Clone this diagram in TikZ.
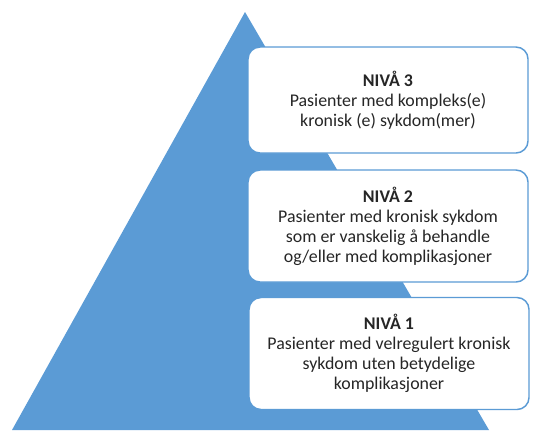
\documentclass[tikz,border=0pt]{standalone}
\usepackage{fontspec}
\setmainfont{Carlito}
\definecolor{pyrblue}{HTML}{5B9BD5}
\definecolor{txtgray}{HTML}{262626}
\begin{document}
\begin{tikzpicture}[x=0.75pt,y=-0.75pt,
  levelbox/.style={draw=pyrblue,line width=1.1pt,fill=white,rounded corners=9pt,
    minimum width=210pt,align=center,text=txtgray,
    font=\fontsize{13.4}{15}\selectfont,inner sep=0pt}]
\useasboundingbox (0,0) rectangle (534,430);
\coordinate (apex) at (245,12);
\coordinate (bl) at (12,430);
\coordinate (br) at (489,430);
\fill[pyrblue] (apex) -- (br) -- (bl) -- cycle;
\node[levelbox,minimum height=79.5pt] (n3) at (388,100) {\textbf{NIVÅ 3}\\Pasienter med kompleks(e)\\kronisk (e) sykdom(mer)};
\node[levelbox,minimum height=84pt] (n2) at (388,226) {\textbf{NIVÅ 2}\\Pasienter med kronisk sykdom\\som er vanskelig å behandle\\og/eller med komplikasjoner};
\node[levelbox,minimum height=84pt] (n1) at (389,353.5) {\textbf{NIVÅ 1}\\Pasienter med velregulert kronisk\\sykdom uten betydelige\\komplikasjoner};
\end{tikzpicture}
\end{document}
